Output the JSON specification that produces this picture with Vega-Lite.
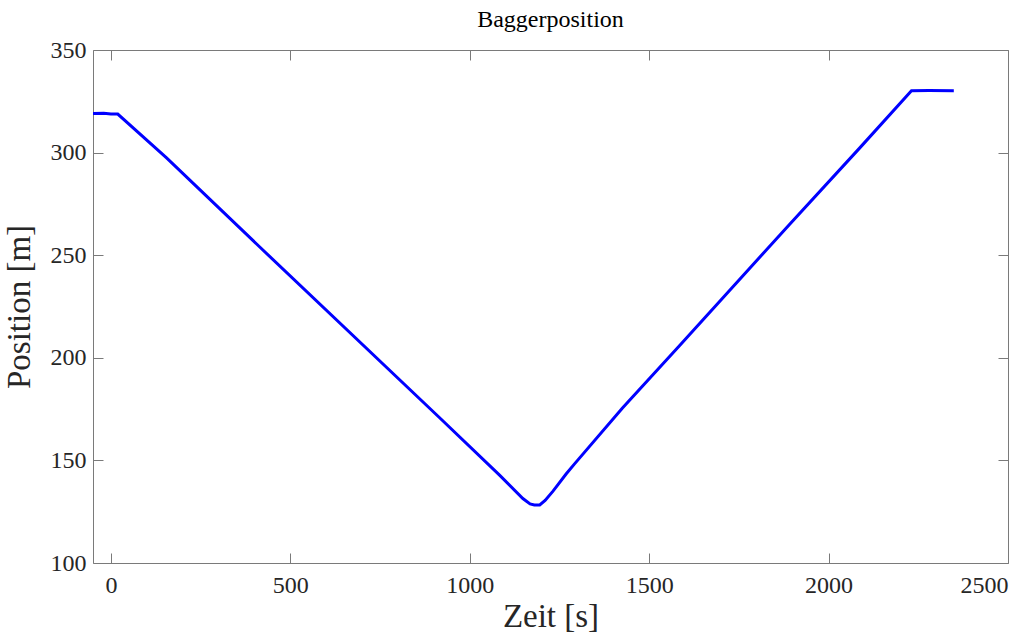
{
  "$schema": "https://vega.github.io/schema/vega-lite/v6.json",
  "width": 915,
  "height": 513,
  "autosize": {"type": "none"},
  "padding": {"left": 93, "top": 50, "right": 27, "bottom": 74},
  "background": "white",
  "config": {
    "view": {"stroke": null},
    "font": "Liberation Serif",
    "axis": {
      "grid": false,
      "domainColor": "#7a7a7a",
      "domainWidth": 1,
      "tickColor": "#7a7a7a",
      "tickWidth": 1,
      "tickSize": -10,
      "labelFont": "Liberation Serif",
      "labelFontSize": 24,
      "labelColor": "#262626",
      "titleFont": "Liberation Serif",
      "titleFontSize": 33,
      "titleFontWeight": "normal",
      "titleColor": "#262626"
    }
  },
  "title": {
    "text": "Baggerposition",
    "font": "Liberation Serif",
    "fontSize": 24,
    "fontWeight": "normal",
    "color": "#000000",
    "offset": 6
  },
  "data": {
    "values": [
      {"t": -50, "pos": 319.0},
      {"t": -20, "pos": 319.2},
      {"t": 0, "pos": 318.8},
      {"t": 19, "pos": 318.8},
      {"t": 155, "pos": 297.4},
      {"t": 414, "pos": 254.1},
      {"t": 916, "pos": 170.8},
      {"t": 1083, "pos": 142.8},
      {"t": 1148, "pos": 131.4},
      {"t": 1168, "pos": 128.8},
      {"t": 1180, "pos": 128.3},
      {"t": 1195, "pos": 128.3},
      {"t": 1210, "pos": 130.5},
      {"t": 1232, "pos": 135.0},
      {"t": 1269, "pos": 143.5},
      {"t": 1292, "pos": 148.3},
      {"t": 1425, "pos": 175.4},
      {"t": 1585, "pos": 206.0},
      {"t": 1891, "pos": 265.0},
      {"t": 2087, "pos": 302.3},
      {"t": 2231, "pos": 330.2},
      {"t": 2280, "pos": 330.3},
      {"t": 2349, "pos": 330.2}
    ]
  },
  "layer": [
    {
      "mark": {"type": "line", "color": "#0000ff", "strokeWidth": 3, "clip": true},
      "encoding": {
        "x": {
          "field": "t",
          "type": "quantitative",
          "scale": {"domain": [-50, 2500], "nice": false, "zero": false},
          "axis": {
            "orient": "bottom",
            "values": [0, 500, 1000, 1500, 2000, 2500],
            "format": "d",
            "labelPadding": 20,
            "title": "Zeit [s]",
            "titlePadding": 3
          }
        },
        "y": {
          "field": "pos",
          "type": "quantitative",
          "scale": {"domain": [100, 350], "nice": false, "zero": false},
          "axis": {
            "orient": "left",
            "values": [100, 150, 200, 250, 300, 350],
            "format": "d",
            "labelPadding": 17,
            "title": "Position [m]",
            "titlePadding": 14
          }
        }
      }
    },
    {
      "mark": {"type": "line", "opacity": 0},
      "encoding": {
        "x": {
          "field": "t",
          "type": "quantitative",
          "axis": {
            "orient": "top",
            "values": [0, 500, 1000, 1500, 2000, 2500],
            "labels": false,
            "title": null
          }
        },
        "y": {
          "field": "pos",
          "type": "quantitative",
          "axis": {
            "orient": "right",
            "values": [100, 150, 200, 250, 300, 350],
            "labels": false,
            "title": null
          }
        }
      }
    }
  ],
  "resolve": {"axis": {"x": "independent", "y": "independent"}}
}
